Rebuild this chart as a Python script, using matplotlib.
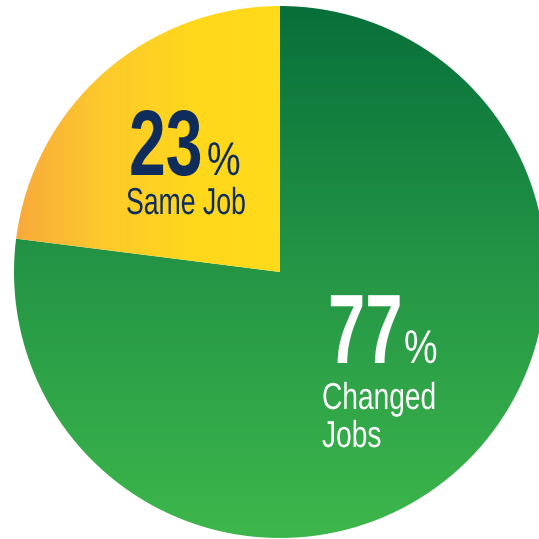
import matplotlib
matplotlib.use('Agg')
import matplotlib.pyplot as plt
import numpy as np
from matplotlib.colors import LinearSegmentedColormap
from matplotlib.patheffects import AbstractPathEffect
from matplotlib.transforms import Affine2D, Bbox
from matplotlib.text import Text

shares = [77, 23]
pct_labels = ['77', '23']
captions = [['Changed', 'Jobs'], ['Same Job']]

W = H = 539
CX, CY, R = 280, 539 - 272, 266

NAVY = '#0f2d5c'
green_cmap = LinearSegmentedColormap.from_list('g', ['#07703a', '#259646', '#3db74b'])
gold_cmap = LinearSegmentedColormap.from_list('y', ['#f8a93c', '#fdca2c', '#ffd71c', '#ffdb1a'])

FONT = ['Liberation Sans', 'DejaVu Sans']


class Squeeze(AbstractPathEffect):
    """Narrow the glyphs horizontally about the text anchor (condensed look)."""
    def __init__(self, sx):
        super().__init__()
        self.sx = sx

    def draw_path(self, renderer, gc, tpath, affine, rgbFace=None):
        x0, y0 = affine.transform((0, 0))
        squeeze = Affine2D().translate(-x0, -y0).scale(self.sx, 1).translate(x0, y0)
        renderer.draw_path(gc, tpath, affine + squeeze, rgbFace)


class CondensedText(Text):
    """Left-anchored text whose extent follows the squeezed glyphs."""
    def __init__(self, *args, sx=0.72, **kwargs):
        super().__init__(*args, **kwargs)
        self.sx = sx
        self.set_path_effects([Squeeze(sx)])

    def get_window_extent(self, renderer=None, dpi=None):
        bb = super().get_window_extent(renderer, dpi)
        return Bbox.from_extents(bb.x0, bb.y0, bb.x0 + bb.width * self.sx, bb.y1)


def label(x, y, s, size, color, bold=False, sx=0.72):
    t = CondensedText(x, H - y, s, sx=sx, family=FONT,
                      fontweight='bold' if bold else 'normal',
                      fontsize=size, color=color, ha='left', va='baseline')
    ax.add_artist(t)


fig = plt.figure(figsize=(W / 100, H / 100), dpi=100)
ax = fig.add_axes([0, 0, 1, 1])

wedges, _ = ax.pie(shares, startangle=90, counterclock=False,
                   center=(CX, CY), radius=R, frame=True,
                   wedgeprops=dict(linewidth=0, facecolor='none'))
ax.set_xlim(0, W)
ax.set_ylim(0, H)
ax.set_aspect('equal')
ax.axis('off')

# green slice: vertical gradient, dark at the top
vgrad = np.linspace(0, 1, 256).reshape(-1, 1)
im = ax.imshow(vgrad, cmap=green_cmap, extent=[CX - R, CX + R, CY - R, CY + R],
               origin='upper', aspect='auto', interpolation='bilinear')
im.set_clip_path(wedges[0])
# gold slice: horizontal gradient, orange on the left
hgrad = np.linspace(0, 1, 256).reshape(1, -1)
im2 = ax.imshow(hgrad, cmap=gold_cmap, extent=[CX - R, CX, CY - R, CY + R],
                origin='upper', aspect='auto', interpolation='bilinear')
im2.set_clip_path(wedges[1])

# 23% Same Job
label(129, 175, pct_labels[1], 67, NAVY, bold=True, sx=0.71)
label(207, 175, '%', 34, NAVY, sx=0.8)
label(126, 214, captions[1][0], 27, NAVY, sx=0.71)

# 77% Changed Jobs
label(328, 363, pct_labels[0], 71, 'white', bold=True, sx=0.68)
label(404, 363, '%', 34, 'white', sx=0.8)
label(322, 409, captions[0][0], 27, 'white', sx=0.75)
label(322, 447, captions[0][1], 27, 'white', sx=0.75)

fig.savefig('out.png', dpi=100)
